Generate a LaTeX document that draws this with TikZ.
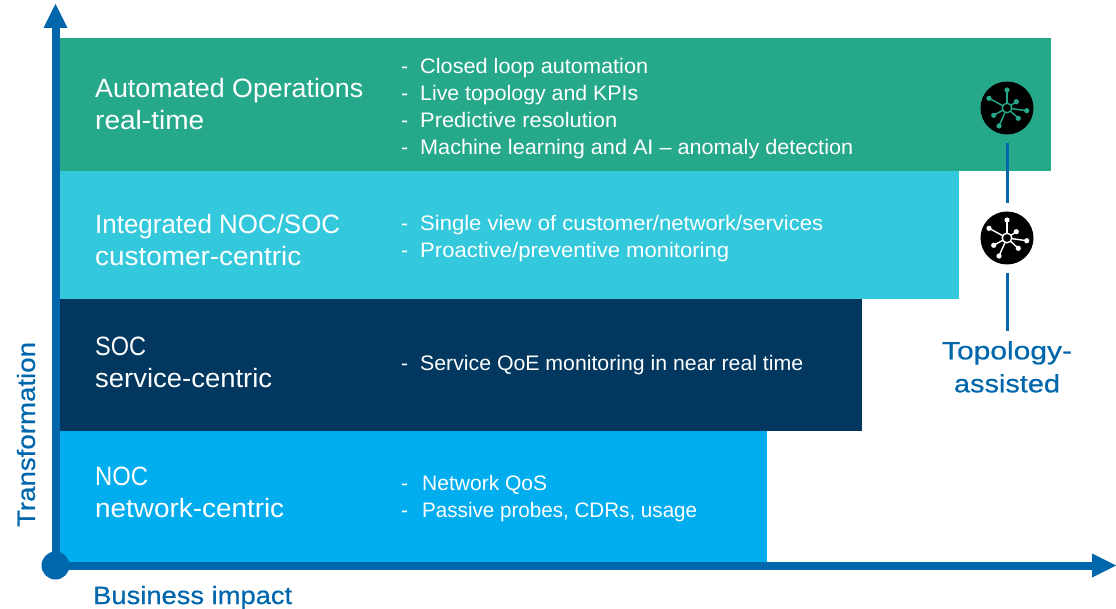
\documentclass[tikz,border=0pt]{standalone}
\usepackage{graphicx}
\usepackage{fontspec}
\setmainfont{Liberation Sans}
\newfontfamily\medfont[FakeBold=0.6]{Liberation Sans}
\usetikzlibrary{arrows.meta}
\definecolor{cgreen}{HTML}{26A98A}
\definecolor{ccyan}{HTML}{33C8DC}
\definecolor{cnavy}{HTML}{02385F}
\definecolor{cblue}{HTML}{00AEEF}
\definecolor{caxis}{HTML}{0067AC}
\newcommand{\wl}[2]{\resizebox{#1pt}{\height}{#2}}
\newcommand{\li}[2]{\makebox[19pt][l]{-}\wl{#1}{#2}}
\newcommand{\lj}[2]{\makebox[21pt][l]{-}\wl{#1}{#2}}
\tikzset{
  x=1pt,y=-1pt,
  band/.style={anchor=north west,inner sep=0pt,outer sep=0pt,minimum height=#1},
  title/.style={anchor=north west,inner sep=0pt,align=left,text=white,font=\fontsize{26.5}{32}\selectfont},
  items/.style={anchor=north west,inner sep=0pt,align=left,text=white,font=\fontsize{21}{27}\selectfont},
  axislabel/.style={inner sep=0pt,text=caxis,font=\medfont\fontsize{25}{33}\selectfont},
  axisline/.style={draw=caxis,line width=8pt,-{Triangle[length=24pt,width=24pt,line width=0pt]}},
  icon/.style={circle,fill=black,minimum size=53pt,inner sep=0pt},
  link/.style={draw=caxis,line width=3pt},
  spoke/.style={line width=1.4pt},
}
\newcommand{\hubicon}[2]{%
  \begin{scope}[shift={(#1.center)}]
    \foreach \px/\py in {0/-18,-18/-9.7,9.3/-6.3,19.7/2.7,11.3/10.3,-8/18,-13.3/7.3}{
      \draw[spoke,#2] (0,0) -- (\px,\py);
      \fill[#2] (\px,\py) circle[radius=2.6pt];
    }
    \draw[spoke,#2,fill=black] (0,0) circle[radius=4.8pt];
  \end{scope}}
\begin{document}
\begin{tikzpicture}
\useasboundingbox (0,0) rectangle (1116,609);
\node[band=133pt,minimum width=992pt,fill=cgreen] (bgreen) at (59,38) {};
\node[band=128pt,minimum width=900pt,fill=ccyan] (bcyan) at (59,171) {};
\node[band=132pt,minimum width=803pt,fill=cnavy] (bnavy) at (59,299) {};
\node[band=131pt,minimum width=708pt,fill=cblue] (bblue) at (59,431) {};

\node[title] (t1) at (95,78) {\wl{268}{Automated Operations}\\\wl{109}{real-time}};
\node[title] (t2) at (95,214) {\wl{245}{Integrated NOC/SOC}\\\wl{206}{customer-centric}};
\node[title] (t3) at (95,337) {\wl{51}{SOC}\\\wl{177}{service-centric}};
\node[title] (t4) at (95,467) {\wl{53}{NOC}\\\wl{189}{network-centric}};

\node[items] (l1) at (401,58) {\li{228}{Closed loop automation}\\\li{218}{Live topology and KPIs}\\\li{197}{Predictive resolution}\\\li{433}{Machine learning and AI -- anomaly detection}};
\node[items] (l2) at (401,215) {\li{403}{Single view of customer/network/services}\\\li{309}{Proactive/preventive monitoring}};
\node[items] (l3) at (401,355) {\li{383}{Service QoE monitoring in near real time}};
\node[items] (l4) at (401,475) {\lj{125}{Network QoS}\\\lj{275}{Passive probes, CDRs, usage}};

\coordinate (origin) at (55.5,565.5);
\coordinate (ytip) at (55.5,4);
\coordinate (xtip) at (1116,565.5);
\draw[axisline] (origin) -- (ytip);
\draw[axisline] (origin) -- (xtip);
\fill[caxis] (origin) circle[radius=14pt];

\node[axislabel,rotate=90] (ylab) at (26,434.5) {\wl{185}{Transformation}};
\node[axislabel,anchor=base west] (xlab) at (93,604) {\wl{199}{Business impact}};

\node[icon] (i1) at (1007,108) {};
\node[icon] (i2) at (1007,238) {};
\hubicon{i1}{cgreen}
\hubicon{i2}{white}
\node[axislabel,align=center,anchor=north] (topo) at (1007,341) {\wl{130}{Topology-}\\\wl{106}{assisted}};
\draw[link,shorten >=8pt,shorten <=8pt] (i1) -- (i2);
\draw[link,shorten <=8pt,shorten >=10pt] (i2) -- (topo);
\end{tikzpicture}
\end{document}
